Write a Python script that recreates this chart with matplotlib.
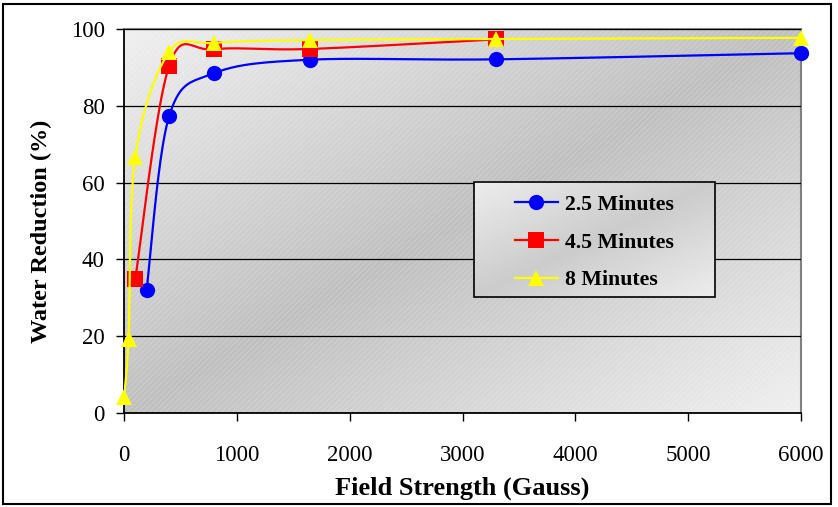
import numpy as np
import matplotlib.pyplot as plt
from matplotlib.patches import Rectangle

# Data
x_25 = [200, 400, 800, 1650, 3300, 6000]
y_25 = [32, 77.3, 88.5, 92.0, 92.1, 93.7]

x_45 = [100, 400, 800, 1650, 3300]
y_45 = [34.9, 90.4, 94.7, 94.8, 97.3]

x_8 = [0, 40, 100, 400, 800, 1650, 3300, 6000]
y_8 = [4.2, 19.3, 66.7, 94.0, 96.4, 97.1, 97.4, 97.7]

labels = ["2.5 Minutes", "4.5 Minutes", "8 Minutes"]
colors = ["#0000FF", "#FF0000", "#FFFF00"]
markers = ["o", "s", "^"]


def smooth(x, y, n=40):
    # Excel-like smoothed line (Catmull-Rom style Bezier)
    x = np.asarray(x, float)
    y = np.asarray(y, float)
    px = np.concatenate([[x[0]], x, [x[-1]]])
    py = np.concatenate([[y[0]], y, [y[-1]]])
    t = np.linspace(0, 1, n)[:, None]
    out = []
    for i in range(len(x) - 1):
        p0 = np.array([px[i], py[i]])
        p1 = np.array([px[i + 1], py[i + 1]])
        p2 = np.array([px[i + 2], py[i + 2]])
        p3 = np.array([px[i + 3], py[i + 3]])
        c1 = p1 + (p2 - p0) / 6
        c2 = p2 - (p3 - p1) / 6
        seg = ((1 - t) ** 3) * p1 + 3 * ((1 - t) ** 2) * t * c1 \
            + 3 * (1 - t) * t ** 2 * c2 + t ** 3 * p2
        out.append(seg)
    pts = np.vstack(out)
    return pts[:, 0], pts[:, 1]


def gradient(dark, light, size=300):
    g = np.linspace(0, 1, size)
    X, Y = np.meshgrid(g, g)
    v = dark + (light - dark) * np.abs(X - Y)
    return np.dstack([v, v, v])


plt.rcParams['font.family'] = ['Liberation Serif', 'DejaVu Serif']

fig = plt.figure(figsize=(8.38, 5.07), dpi=100)
ax = fig.add_axes([124 / 838, 1 - 413 / 507, 677 / 838, 384 / 507])

# gradient plot area with faint hatching
ax.imshow(gradient(0.75, 0.94), extent=(0, 1, 0, 1), origin='lower',
          transform=ax.transAxes, aspect='auto', zorder=0)
plt.rcParams['hatch.linewidth'] = 0.6
ax.add_patch(Rectangle((0, 0), 1, 1, transform=ax.transAxes, fill=False,
                       hatch='//////', edgecolor=(1, 1, 1, 0.25), lw=0, zorder=0.5))

for xs, ys, c, m, lab in zip([x_25, x_45, x_8], [y_25, y_45, y_8], colors, markers, labels):
    sx, sy = smooth(xs, ys)
    ax.plot(sx, sy, color=c, lw=1.6, zorder=3)
    ax.plot(xs, ys, linestyle='none', marker=m, color=c, markersize=11,
            markeredgewidth=0, zorder=3, clip_on=False)

ax.set_xlim(0, 6000)
ax.set_ylim(0, 100)
ax.set_xticks(range(0, 6001, 1000))
ax.set_yticks(range(0, 101, 20))
ax.grid(axis='y', color='black', lw=0.9, zorder=1)
ax.set_axisbelow(False)

for s in ['top', 'right']:
    ax.spines[s].set_color('#808080')
    ax.spines[s].set_linewidth(1.5)
for s in ['left', 'bottom']:
    ax.spines[s].set_linewidth(1.3)

ax.tick_params(axis='x', direction='out', length=6, width=1, labelsize=16.5, pad=17)
ax.tick_params(axis='y', direction='out', length=6, width=1, labelsize=16.5, pad=8)

ax.set_xlabel("Field Strength (Gauss)", fontsize=19, fontweight='bold', labelpad=8)
ax.set_ylabel("Water Reduction (%)", fontsize=17.5, fontweight='bold')
ax.yaxis.set_label_coords(-0.106, 0.474)

# legend box with its own gradient
lx0, ly0, lw_, lh = 0.517, 0.302, 0.356, 0.3
ax.imshow(gradient(0.8, 0.93), extent=(lx0, lx0 + lw_, ly0, ly0 + lh), origin='lower',
          transform=ax.transAxes, aspect='auto', zorder=4)
ax.add_patch(Rectangle((lx0, ly0), lw_, lh, transform=ax.transAxes, fill=False,
                       edgecolor='black', lw=1.2, zorder=4.5))
handles = [plt.Line2D([], [], color=c, marker=m, markersize=11, markeredgewidth=0, lw=1.6)
           for c, m in zip(colors, markers)]
ax.legend(handles, labels, loc='center', bbox_to_anchor=(lx0, ly0 - 0.008, lw_, lh),
          frameon=False, prop={'weight': 'bold', 'size': 15.7},
          handlelength=1.95, labelspacing=0.8, handletextpad=0.35)
ax.set_xlim(0, 6000)
ax.set_ylim(0, 100)

fig.patches.append(Rectangle((0.004, 0.006), 0.988, 0.986, transform=fig.transFigure,
                             fill=False, edgecolor='black', lw=1.5))

fig.savefig("out.png", dpi=100)
